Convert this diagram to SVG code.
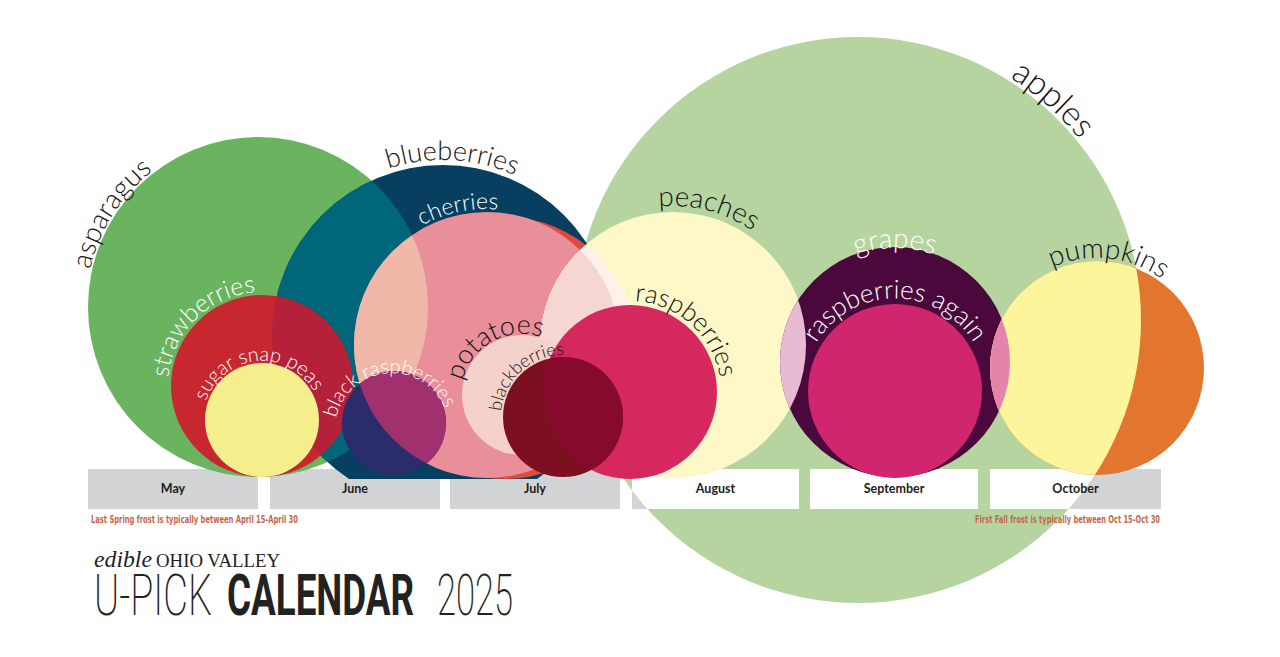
<svg xmlns="http://www.w3.org/2000/svg" width="1280" height="657" viewBox="0 0 1280 657">
<defs>
<style>
.lbl{font-family:Lato,"Noto Sans",sans-serif;font-weight:300}
.dk{fill:#141414}
.wt{fill:#ffffff}
.mon{font-family:Lato,"Liberation Sans",sans-serif;font-weight:700;font-size:12.5px;fill:#1c1c1c;text-anchor:middle}
.bar{fill:#d1d3d4}
.wbar{fill:#ffffff}
.note{font-family:"Liberation Sans Narrow","DejaVu Sans Condensed","Liberation Sans",sans-serif;font-weight:700;font-size:10px;fill:#c2694a}
.ttl{font-family:Roboto,"Liberation Sans",sans-serif;font-size:58px;fill:#222}
</style>
<clipPath id="cBase"><rect x="0" y="0" width="1280" height="479"/></clipPath>
<clipPath id="cAsp"><circle cx="258" cy="307" r="170"/></clipPath>
<clipPath id="cBlue"><circle cx="443" cy="336" r="171"/></clipPath>
<clipPath id="cPink"><circle cx="487" cy="345" r="133"/></clipPath>
<clipPath id="cRed"><circle cx="505" cy="348" r="131"/></clipPath>
<clipPath id="cPeach"><circle cx="673" cy="345" r="133"/></clipPath>
<clipPath id="cApple"><circle cx="858" cy="320" r="283"/></clipPath>
<clipPath id="cRasp"><circle cx="630" cy="392" r="87"/></clipPath>
<clipPath id="cGrape"><circle cx="895" cy="362" r="115"/></clipPath>
<path id="pAsp" d="M105.4,386.4 A172,172 0 0 1 265.5,135.2"/>
<path id="pBlue" d="M295.4,240.1 A176,176 0 0 1 599.8,256.1"/>
<path id="pCher" d="M357.7,303 A136,136 0 0 1 588.1,254"/>
<path id="pStraw" d="M176.5,425 A94,94 0 0 1 302.5,301.2"/>
<path id="pPeas" d="M203.2,414.9 A59,59 0 0 1 319,404.7"/>
<path id="pBrasp" d="M335,430 A57,57 0 0 1 448.1,420.1"/>
<path id="pPot" d="M462.8,409.8 A61,61 0 0 1 565.9,352.6"/>
<path id="pBlack" d="M505.5,440.2 A62,62 0 0 1 592.1,362.3"/>
<path id="pRasp" d="M587.3,311.7 A91,91 0 0 1 714.4,426.1"/>
<path id="pPeach" d="M573.9,247.6 A139,139 0 0 1 806.9,307.9"/>
<path id="pApple" d="M890.4,35.8 A286,286 0 0 1 1136.1,253.2"/>
<path id="pGrape" d="M796.3,305 A114,114 0 0 1 993.7,305"/>
<path id="pRasp2" d="M803.3,383 A92,92 0 0 1 986.7,383"/>
<path id="pPump" d="M1008,303.3 A110,110 0 0 1 1197.5,323.3"/>
</defs>

<g id="bars">
<rect class="bar" x="88" y="469" width="170" height="40"/>
<rect class="bar" x="270" y="469" width="170" height="40"/>
<rect class="bar" x="450" y="469" width="170" height="40"/>
<rect class="bar" x="632" y="469" width="167" height="40"/>
<rect class="bar" x="810" y="469" width="168" height="40"/>
<rect class="bar" x="990" y="469" width="171" height="40"/>
</g>

<g id="apples">
<circle cx="858" cy="320" r="283" fill="#b5d4a0"/>
<g clip-path="url(#cApple)">
<rect class="wbar" x="632" y="469" width="167" height="40"/>
<rect class="wbar" x="810" y="469" width="168" height="40"/>
<rect class="wbar" x="990" y="469" width="171" height="40"/>
</g>
<text class="lbl dk" font-size="34"><textPath href="#pApple" startOffset="50%" text-anchor="middle">apples</textPath></text>
</g>

<g clip-path="url(#cBase)">
<g id="asparagus">
<circle cx="258" cy="307" r="170" fill="#6bb45f"/>
<text class="lbl dk" font-size="28"><textPath href="#pAsp" startOffset="50%" text-anchor="middle">asparagus</textPath></text>
</g>

<g id="blueberries">
<circle cx="443" cy="336" r="171" fill="#063f60"/>
<circle cx="443" cy="336" r="171" fill="#00667a" clip-path="url(#cAsp)"/>
<text class="lbl dk" font-size="27"><textPath href="#pBlue" startOffset="50%" text-anchor="middle">blueberries</textPath></text>
</g>

<g id="cherries">
<circle cx="505" cy="348" r="131" fill="#de4a3c"/>
<circle cx="487" cy="345" r="133" fill="#e88f99"/>
<circle cx="487" cy="345" r="133" fill="#f1b7a8" clip-path="url(#cAsp)"/>
<text class="lbl wt" font-size="23"><textPath href="#pCher" startOffset="50%" text-anchor="middle">cherries</textPath></text>
</g>

<g id="strawberries">
<circle cx="262" cy="386" r="91" fill="#c7282f"/>
<circle cx="262" cy="386" r="91" fill="#b52139" clip-path="url(#cBlue)"/>
<text class="lbl wt" font-size="25"><textPath href="#pStraw" startOffset="50%" text-anchor="middle">strawberries</textPath></text>
</g>

<g id="sugar-snap-peas">
<circle cx="262" cy="420" r="57" fill="#f4ee8c"/>
<text class="lbl wt" font-size="20"><textPath href="#pPeas" startOffset="50%" text-anchor="middle">sugar snap peas</textPath></text>
</g>

<g id="black-raspberries">
<circle cx="394" cy="423" r="52" fill="#2b2c6b"/>
<circle cx="394" cy="423" r="52" fill="#a1306f" clip-path="url(#cPink)"/>
<text class="lbl wt" font-size="20"><textPath href="#pBrasp" startOffset="50%" text-anchor="middle">black raspberries</textPath></text>
</g>

<g id="peaches">
<circle cx="673" cy="345" r="133" fill="#fef7c7"/>
<circle cx="673" cy="345" r="133" fill="#fdf1ea" clip-path="url(#cRed)"/>
<circle cx="673" cy="345" r="133" fill="#f6d6d3" clip-path="url(#cPink)"/>
<text class="lbl dk" font-size="28"><textPath href="#pPeach" startOffset="50%" text-anchor="middle">peaches</textPath></text>
</g>

<g id="potatoes">
<circle cx="522" cy="395" r="60" fill="#f5d1cc"/>
<text class="lbl dk" font-size="27"><textPath href="#pPot" startOffset="50%" text-anchor="middle">potatoes</textPath></text>
</g>

<g id="raspberries">
<circle cx="630" cy="392" r="87" fill="#d4285f"/>
<text class="lbl dk" font-size="26"><textPath href="#pRasp" startOffset="50%" text-anchor="middle">raspberries</textPath></text>
</g>

<g id="blackberries">
<circle cx="563" cy="417" r="60" fill="#7c1020"/>
<circle cx="563" cy="417" r="60" fill="#860a2c" clip-path="url(#cRasp)"/>
<text class="lbl dk" font-size="18"><textPath href="#pBlack" startOffset="50%" text-anchor="middle">blackberries</textPath></text>
</g>

<g id="grapes">
<circle cx="895" cy="362" r="115" fill="#4a083c"/>
<circle cx="895" cy="362" r="115" fill="#e9bbd3" clip-path="url(#cPeach)"/>
<text class="lbl wt" font-size="28"><textPath href="#pGrape" startOffset="50%" text-anchor="middle">grapes</textPath></text>
</g>

<g id="raspberries-again">
<circle cx="895" cy="391" r="87" fill="#d0266d"/>
<text class="lbl wt" font-size="26"><textPath href="#pRasp2" startOffset="50%" text-anchor="middle">raspberries again</textPath></text>
</g>

<g id="pumpkins">
<circle cx="1097" cy="368" r="107" fill="#e3762f"/>
<circle cx="1097" cy="368" r="107" fill="#fdf59b" clip-path="url(#cApple)"/>
<circle cx="1097" cy="368" r="107" fill="#e385ab" clip-path="url(#cGrape)"/>
<text class="lbl dk" font-size="28"><textPath href="#pPump" startOffset="50%" text-anchor="middle">pumpkins</textPath></text>
</g>
</g>

<g id="months">
<text class="mon" x="173" y="493">May</text>
<text class="mon" x="355" y="493">June</text>
<text class="mon" x="535" y="493">July</text>
<text class="mon" x="715.5" y="493">August</text>
<text class="mon" x="894" y="493">September</text>
<text class="mon" x="1075.5" y="493">October</text>
</g>

<g id="notes">
<text class="note" x="91" y="523" textLength="207" lengthAdjust="spacingAndGlyphs">Last Spring frost is typically between April 15-April 30</text>
<text class="note" x="975" y="523" textLength="185" lengthAdjust="spacingAndGlyphs">First Fall frost is typically between Oct 15-Oct 30</text>
</g>

<g id="title">
<text x="94" y="567" font-family="Liberation Serif" font-style="italic" font-size="24" fill="#222" textLength="58" lengthAdjust="spacingAndGlyphs">edible</text>
<text x="156" y="567" font-family="Liberation Serif" font-size="18" fill="#222" textLength="124" lengthAdjust="spacingAndGlyphs">OHIO VALLEY</text>
<text class="ttl" x="94" y="615" font-weight="200" textLength="118" lengthAdjust="spacingAndGlyphs">U-PICK</text>
<text class="ttl" x="227" y="615" font-weight="700" textLength="187" lengthAdjust="spacingAndGlyphs">CALENDAR</text>
<text class="ttl" x="437" y="615" font-weight="200" textLength="76" lengthAdjust="spacingAndGlyphs">2025</text>
</g>
</svg>
